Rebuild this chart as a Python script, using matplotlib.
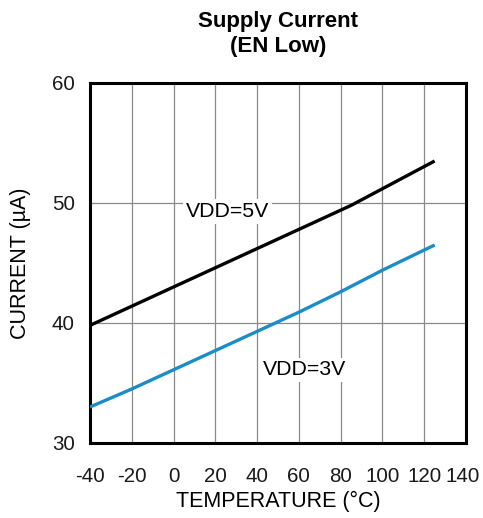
import matplotlib
matplotlib.use("Agg")
import matplotlib.pyplot as plt
from matplotlib.transforms import ScaledTranslation

# supply current vs temperature, EN low
temp_5v = [-40, 0, 40, 85, 125]
curr_5v = [39.8, 43.0, 46.2, 49.8, 53.5]
temp_3v = [-40, -20, 0, 20, 40, 60, 80, 100, 125]
curr_3v = [33.0, 34.5, 36.1, 37.7, 39.3, 40.9, 42.6, 44.4, 46.5]
xticks = [-40, -20, 0, 20, 40, 60, 80, 100, 120, 140]
yticks = [30, 40, 50, 60]

plt.rcParams["font.family"] = ["Liberation Sans", "DejaVu Sans"]
plt.rcParams["axes.unicode_minus"] = False

fig = plt.figure(figsize=(4.83, 5.18), dpi=100)
ax = fig.add_axes([0.1863, 0.1448, 0.7785, 0.695])

ax.plot(temp_5v, curr_5v, color="black", lw=2.4, solid_capstyle="butt", zorder=3)
ax.plot(temp_3v, curr_3v, color="#1a8cc8", lw=2.4, solid_capstyle="butt", zorder=3)

box = dict(facecolor="white", edgecolor="none", pad=2)
ax.text(26, 49.3, "VDD=5V", ha="center", va="center", fontsize=15.3, bbox=box, zorder=2)
ax.text(62.5, 36.1, "VDD=3V", ha="center", va="center", fontsize=15.3, bbox=box, zorder=2)

ax.set_xlim(-40, 140)
ax.set_ylim(30, 60)
ax.set_xticks(xticks)
ax.set_yticks(yticks)
ax.tick_params(length=0, labelsize=14.8, labelcolor="#1a1a1a")
ax.tick_params(axis="x", pad=17)
ax.tick_params(axis="y", pad=11)
ax.grid(color="#8a8a8a", lw=0.9)
ax.set_axisbelow(True)
for s in ax.spines.values():
    s.set_linewidth(2.2)

# nudge "140" left so it stays on the canvas
last = ax.get_xticklabels()[-1]
last.set_transform(last.get_transform() + ScaledTranslation(-0.03, 0, fig.dpi_scale_trans))

ax.set_xlabel("TEMPERATURE (°C)", fontsize=15.5, labelpad=4)
ax.set_ylabel("CURRENT (µA)", fontsize=15.5, labelpad=15)
ax.set_title("Supply Current\n(EN Low)", fontsize=16, fontweight="bold", pad=22, linespacing=1.25)

fig.savefig("out.png", dpi=100)
